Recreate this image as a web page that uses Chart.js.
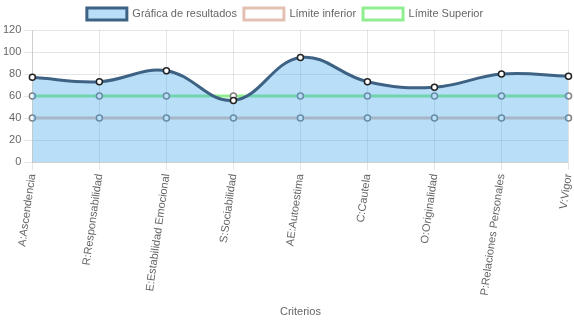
<!DOCTYPE html>
<html lang="es">
<head>
    <meta charset="UTF-8">
    <title>Criterios</title>
    <script src="https://cdn.jsdelivr.net/npm/chart.js"></script>
    <style>
        html, body { margin: 0; padding: 0; background: #fff; }
        #wrap { width: 574px; height: 323px; }
    </style>
</head>
<body>
<div id="wrap"><canvas id="grafica"></canvas></div>
<script>
// Criterios evaluados
const criterios = [
    'A:Ascendencia', 'R:Responsabilidad', 'E:Estabilidad Emocional', 'S:Sociabilidad',
    'AE:Autoestima', 'C:Cautela', 'O:Originalidad', 'P:Relaciones Personales', 'V:Vigor'
];
const resultados = [77, 73, 83, 56, 95, 73, 68, 80, 78];
const limiteInferior = [40, 40, 40, 40, 40, 40, 40, 40, 40];
const limiteSuperior = [60, 60, 60, 60, 60, 60, 60, 60, 60];
const ticksY = [0, 20, 40, 60, 80, 100, 120];

Chart.defaults.font.family = 'Arial, "Liberation Sans", sans-serif';
Chart.defaults.font.size = 11;
Chart.defaults.color = '#666';

const ctx = document.getElementById('grafica').getContext('2d');
new Chart(ctx, {
    type: 'line',
    data: {
        labels: criterios,
        datasets: [{
            label: 'Gráfica de resultados',
            data: resultados,
            backgroundColor: 'rgba(54, 162, 235, 0.35)',
            borderColor: 'rgb(62, 98, 132)',
            borderWidth: 3,
            fill: 'origin',
            tension: 0.4,
            pointRadius: 3,
            pointBorderWidth: 1.5,
            pointBackgroundColor: '#fff',
            pointBorderColor: '#222'
        }, {
            label: 'Límite inferior',
            data: limiteInferior,
            backgroundColor: 'rgba(255, 255, 255, 0)',
            borderColor: 'rgb(228, 192, 180)',
            borderWidth: 3,
            fill: false,
            tension: 0,
            pointRadius: 3,
            pointBorderWidth: 1.5,
            pointBackgroundColor: '#fff',
            pointBorderColor: 'rgb(130, 130, 130)'
        }, {
            label: 'Límite Superior',
            data: limiteSuperior,
            backgroundColor: 'rgba(255, 255, 255, 0)',
            borderColor: 'rgb(144, 238, 144)',
            borderWidth: 3,
            fill: false,
            tension: 0,
            pointRadius: 3,
            pointBorderWidth: 1.5,
            pointBackgroundColor: '#fff',
            pointBorderColor: 'rgb(130, 130, 130)'
        }]
    },
    options: {
        responsive: true,
        maintainAspectRatio: false,
        animation: false,
        layout: { padding: { right: 4, top: 1 } },
        plugins: {
            legend: {
                position: 'top',
                labels: { boxWidth: 40, boxHeight: 12, padding: 7 }
            },
            tooltip: { enabled: false }
        },
        scales: {
            x: {
                title: { display: true, text: 'Criterios', padding: { top: 12 } },
                ticks: { minRotation: 82, maxRotation: 82, autoSkip: false },
                grid: { color: 'rgba(0, 0, 0, 0.1)' },
                // the rotated last label needs no extra room on the right
                afterFit: scale => { scale.paddingRight = 0; }
            },
            y: {
                min: ticksY[0],
                max: ticksY[ticksY.length - 1],
                afterBuildTicks: axis => { axis.ticks = ticksY.map(v => ({ value: v })); },
                grid: { color: 'rgba(0, 0, 0, 0.1)' }
            }
        }
    }
});
</script>
</body>
</html>
